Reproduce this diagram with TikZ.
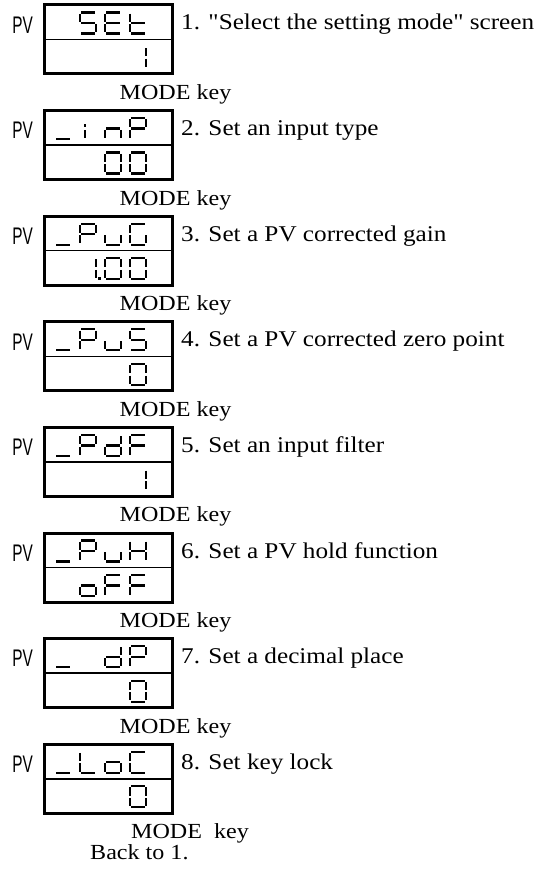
\documentclass[tikz,border=0pt]{standalone}
\usepackage{fontspec}
\setmainfont{Liberation Serif}
\newfontfamily\pvfont{Liberation Sans}[FakeStretch=0.64]
\newfontfamily\labfont{Liberation Serif}[FakeStretch=1.12]
\usetikzlibrary{positioning}

% segment paths in a 16 x 21 cell (y grows downwards)
\def\sga{(0,0)--(16,0)}
\def\sgb{(16,0)--(16,10.5)}
\def\sgc{(16,10.5)--(16,21)}
\def\sgd{(0,21)--(16,21)}
\def\sge{(0,10.5)--(0,21)}
\def\sgf{(0,0)--(0,10.5)}
\def\sgg{(0,10.5)--(16,10.5)}
\def\sgi{(5,11)--(5,21)}
\def\sgj{(5,5)--(5,10.5)}

% glyphs as segment lists
\def\glS{a,f,g,c,d}
\def\glE{a,f,g,e,d}
\def\glt{f,e,g,d}
\def\glone{b,c}
\def\glund{d}
\def\gli{i,j}
\def\gln{e,g,c}
\def\glP{a,b,f,g,e}
\def\glzero{a,b,c,d,e,f}
\def\glu{e,d,c}
\def\glG{a,f,e,d,c}
\def\gld{b,c,d,e,g}
\def\glF{a,f,g,e}
\def\glH{b,c,e,f,g}
\def\glo{c,d,e,g}
\def\glL{f,e,d}
\def\glC{a,f,e,d}

% #1 cell (1..4), #2 display (1..8), #3 row (1 or 2), #4 glyph
\newcommand\segchar[4]{%
  \begin{scope}[shift={({30+25*#1},{5+105.6*(#2-1)+7.5+34.5*(#3-1)})}]
    \foreach \s in #4 {
      \edef\segpath{\csname sg\s\endcsname}
      \draw[segline] \segpath;
    }
  \end{scope}}

\begin{document}
\begin{tikzpicture}[
    x=1pt, y=-1pt,
    dispbox/.style={
        draw,
        line width=3pt,
        minimum width=128pt,
        minimum height=69pt,
        inner sep=0pt
    },
    divline/.style={line width=1.6pt},
    segline/.style={line width=2.2pt, shorten <=1.2pt, shorten >=1.2pt},
    pvlabel/.style={font=\pvfont\fontsize{24}{26}\selectfont, inner sep=0pt},
    steplabel/.style={font=\labfont\fontsize{22.5}{26}\selectfont,
        anchor=base west, inner sep=0pt},
    keylabel/.style={font=\labfont\fontsize{21.5}{26}\selectfont,
        anchor=base west, inner sep=0pt}
]

\useasboundingbox (0,0) rectangle (536,874);

\foreach \txt [count=\n] in {%
    1. "Select the setting mode" screen,
    2. Set an input type,
    3. Set a PV corrected gain,
    4. Set a PV corrected zero point,
    5. Set an input filter,
    6. Set a PV hold function,
    7. Set a decimal place,
    8. Set key lock} {
    \pgfmathsetmacro\T{5+105.6*(\n-1)}
    \node[dispbox] (disp\n) at (108.5,\T+34.5) {};
    \draw[divline] (disp\n.west) -- (disp\n.east);
    \node[pvlabel] (pv\n) at (22.5,\T+20) {PV};
    \node[steplabel] (step\n) at (181,\T+25) {\txt};
}

% mode key between the displays
\foreach \n in {1,...,7} {
    \pgfmathsetmacro\T{5+105.6*(\n-1)}
    \node[keylabel] (key\n) at (119.5,\T+94.5) {MODE key};
}
\node[keylabel] (key8) at (131,838.5) {MODE\ \ key};
\node[keylabel] (back) at (90,859) {Back to 1.};

% 1. SEt / 1
\segchar{2}{1}{1}{\glS}
\segchar{3}{1}{1}{\glE}
\segchar{4}{1}{1}{\glt}
\segchar{4}{1}{2}{\glone}

% 2. _inP / 00
\segchar{1}{2}{1}{\glund}
\segchar{2}{2}{1}{\gli}
\segchar{3}{2}{1}{\gln}
\segchar{4}{2}{1}{\glP}
\segchar{3}{2}{2}{\glzero}
\segchar{4}{2}{2}{\glzero}

% 3. _PuG / 1.00
\segchar{1}{3}{1}{\glund}
\segchar{2}{3}{1}{\glP}
\segchar{3}{3}{1}{\glu}
\segchar{4}{3}{1}{\glG}
\segchar{2}{3}{2}{\glone}
\segchar{3}{3}{2}{\glzero}
\segchar{4}{3}{2}{\glzero}
\fill (98,{5+105.6*2+42+19}) rectangle (100.5,{5+105.6*2+42+22});

% 4. _PuS / 0
\segchar{1}{4}{1}{\glund}
\segchar{2}{4}{1}{\glP}
\segchar{3}{4}{1}{\glu}
\segchar{4}{4}{1}{\glS}
\segchar{4}{4}{2}{\glzero}

% 5. _PdF / 1
\segchar{1}{5}{1}{\glund}
\segchar{2}{5}{1}{\glP}
\segchar{3}{5}{1}{\gld}
\segchar{4}{5}{1}{\glF}
\segchar{4}{5}{2}{\glone}

% 6. _PuH / oFF
\segchar{1}{6}{1}{\glund}
\segchar{2}{6}{1}{\glP}
\segchar{3}{6}{1}{\glu}
\segchar{4}{6}{1}{\glH}
\segchar{2}{6}{2}{\glo}
\segchar{3}{6}{2}{\glF}
\segchar{4}{6}{2}{\glF}

% 7. _ dP / 0
\segchar{1}{7}{1}{\glund}
\segchar{3}{7}{1}{\gld}
\segchar{4}{7}{1}{\glP}
\segchar{4}{7}{2}{\glzero}

% 8. _LoC / 0
\segchar{1}{8}{1}{\glund}
\segchar{2}{8}{1}{\glL}
\segchar{3}{8}{1}{\glo}
\segchar{4}{8}{1}{\glC}
\segchar{4}{8}{2}{\glzero}

\end{tikzpicture}
\end{document}
